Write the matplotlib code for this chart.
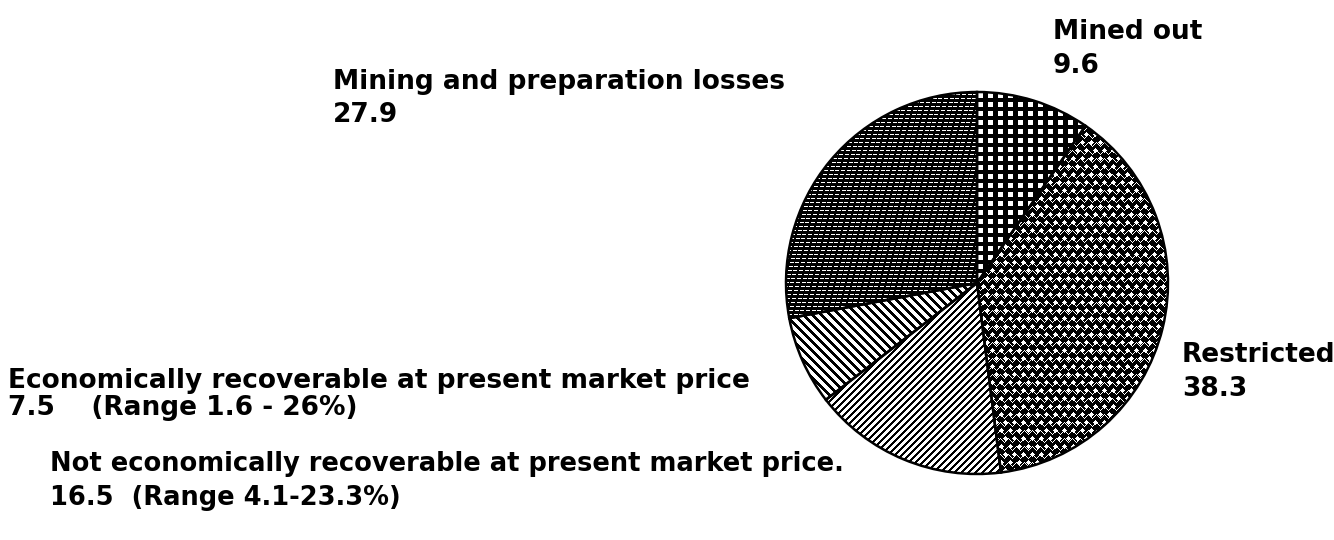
import numpy as np
import matplotlib.pyplot as plt

# share of the original coal resource, percent
categories = ['Mined out',
              'Restricted',
              'Not economically recoverable at present market price.',
              'Economically recoverable at present market price',
              'Mining and preparation losses']
shares = [9.6, 38.3, 16.5, 7.5, 27.9]
ranges = ['', '', '(Range 4.1-23.3%)', '(Range 1.6 - 26%)', '']

W, H = 1334, 540
fig = plt.figure(figsize=(W / 100, H / 100), dpi=100)
fig.patch.set_facecolor('white')

# pie centre and radius in pixels, axes sized to whole pixels
cx, cy, r = 977, 283, 191
side = 402
lim = side / (2 * r)
ax = fig.add_axes([(cx - side / 2) / W, 1 - (cy + side / 2) / H, side / W, side / H])

wedges, _ = ax.pie(shares, startangle=90, counterclock=False,
                   wedgeprops=dict(facecolor='none', edgecolor='black',
                                   linewidth=1.8, zorder=3))

# black/white fill patterns, one per wedge (True = black)
yy, xx = np.indices((side, side))

checks = ~(((xx % 10) >= 2) & ((xx % 10) < 7) & ((yy % 9) >= 2) & ((yy % 9) < 7))

u = (xx + (yy // 8 % 2) * 4) % 9 - 4
v = yy % 8 - 4
diamonds = (np.abs(u) + np.abs(v)) <= 2
zigzag = ((yy + np.abs((xx % 8) - 4)) % 8) == 0
dots = ~(diamonds | zigzag)

slash = ((xx + yy) % 7) < 3
backslash = ((xx - yy) % 9) < 4

streaks = ~(((yy % 4) == 0) & (((xx * 3 + yy * 5) % 17) > 4))

patterns = [checks, dots, slash, backslash, streaks]

for wedge, pat in zip(wedges, patterns):
    rgb = np.where(pat[..., None], 0.0, 1.0) * np.ones(3)
    im = ax.imshow(rgb, extent=(-lim, lim, -lim, lim), origin='upper',
                   interpolation='nearest', zorder=2)
    im.set_clip_path(wedge)

ax.set_xlim(-lim, lim)
ax.set_ylim(-lim, lim)
ax.set_axis_off()

# two-line labels: name on top, value (and range) below
first_lines = categories
second_lines = [
    f'{shares[0]}',
    f'{shares[1]}',
    f'{shares[2]}  {ranges[2]}',
    f'{shares[3]}    {ranges[3]}',
    f'{shares[4]}',
]
# x, baseline of line 1, baseline of line 2 (pixels from top-left)
label_pos = [(1053, 39, 73), (1182, 362, 396), (50, 471, 505),
             (8, 388, 415), (333, 89, 122)]
label_size = [19, 19, 18.5, 19, 19]

for top, bottom, (px, b1, b2), fs in zip(first_lines, second_lines,
                                         label_pos, label_size):
    for txt, b in ((top, b1), (bottom, b2)):
        fig.text(px / W, 1 - b / H, txt, ha='left', va='baseline',
                 fontsize=fs, fontweight='bold', family='DejaVu Sans',
                 color='black')

fig.savefig('out.png', dpi=100, facecolor='white')
